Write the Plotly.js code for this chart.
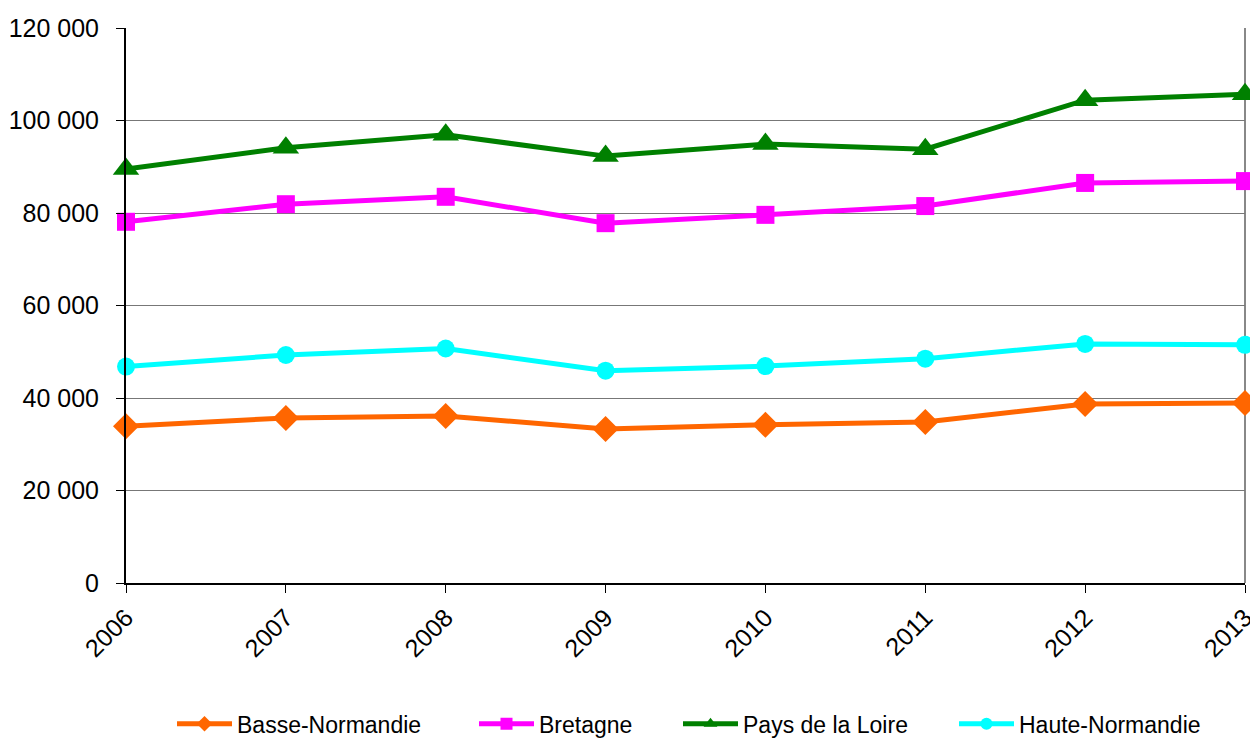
<!DOCTYPE html>
<html>
<head>
<meta charset="utf-8">
<script src="https://cdn.plot.ly/plotly-3.0.1.min.js"></script>
<style>html,body{margin:0;padding:0;background:#fff;}#chart{width:1250px;height:738px;}</style>
</head>
<body>
<div id="chart"></div>
<script>
var years = ["2006", "2007", "2008", "2009", "2010", "2011", "2012", "2013"];
var basseNormandie = [33900, 35700, 36100, 33300, 34200, 34800, 38700, 38900];
var bretagne = [78100, 81900, 83500, 77800, 79600, 81500, 86500, 86900];
var paysDeLaLoire = [89500, 94100, 96900, 92300, 94900, 93800, 104400, 105700];
var hauteNormandie = [46800, 49300, 50700, 45900, 46900, 48500, 51700, 51500];
var yTicks = [0, 20000, 40000, 60000, 80000, 100000, 120000];

function tr(name, y, color, symbol, size, legendId) {
  return {
    type: 'scatter', mode: 'lines+markers', name: name, x: years, y: y,
    line: {color: color, width: 5},
    marker: {color: color, symbol: symbol, size: size},
    cliponaxis: false, legend: legendId
  };
}
var data = [
  tr('Basse-Normandie', basseNormandie, '#FF6600', 'diamond', 20, 'legend'),
  tr('Bretagne', bretagne, '#FF00FF', 'square', 18, 'legend2'),
  tr('Pays de la Loire', paysDeLaLoire, '#008000', 'triangle-up', 23, 'legend3'),
  tr('Haute-Normandie', hauteNormandie, '#00FFFF', 'circle', 18, 'legend4')
];
function leg(px) {
  return {
    orientation: 'h', x: (px - 126) / 1119, xanchor: 'left', y: -0.215, yanchor: 'top',
    font: {size: 23}, bgcolor: 'rgba(0,0,0,0)', itemsizing: 'constant', itemwidth: 55
  };
}
var layout = {
  width: 1250, height: 738,
  margin: {l: 126, r: 5, t: 28, b: 155, autoexpand: false},
  paper_bgcolor: '#fff', plot_bgcolor: '#fff',
  separators: ', ',
  font: {family: 'Liberation Sans, Arial, sans-serif', color: '#000', size: 23},
  showlegend: true,
  xaxis: {
    type: 'category', range: [0, 7], tickangle: -45, automargin: false,
    showline: true, linecolor: '#000', linewidth: 2,
    ticks: 'outside', ticklen: 8, tickcolor: '#000', tickwidth: 1,
    showgrid: false, zeroline: false,
    tickfont: {size: 25}
  },
  yaxis: {
    range: [0, 120000], tickvals: yTicks, tickformat: ',d', automargin: false,
    showline: true, linecolor: '#000', linewidth: 2,
    ticks: 'outside', ticklen: 8, tickcolor: '#000',
    ticklabelstandoff: 12,
    showgrid: true, gridcolor: '#777', gridwidth: 1,
    zeroline: false, tickfont: {size: 25}
  },
  shapes: [{type: 'line', xref: 'paper', yref: 'paper', x0: 1, x1: 1, y0: 0, y1: 1,
            line: {color: '#888', width: 2}, layer: 'below'}],
  legend: leg(172),
  legend2: leg(474),
  legend3: leg(678),
  legend4: leg(954)
};
Plotly.newPlot('chart', data, layout, {displayModeBar: false, staticPlot: true});
</script>
</body>
</html>
